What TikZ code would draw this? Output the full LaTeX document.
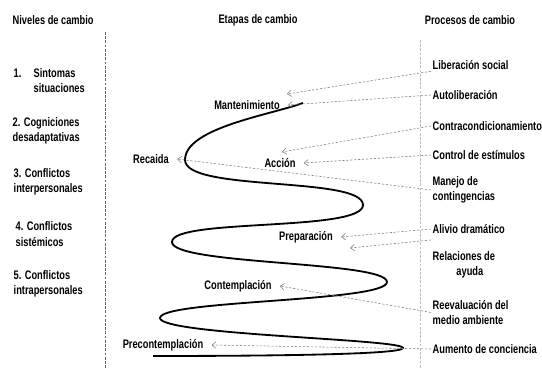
\documentclass[tikz,border=0pt]{standalone}
\usepackage{fontspec}
\newfontfamily\narrowsans[FakeStretch=0.75]{Liberation Sans}
\usetikzlibrary{arrows.meta}

\begin{document}
\begin{tikzpicture}[x=0.25mm,y=0.25mm,
  every node/.style={font=\narrowsans\bfseries\fontsize{8.8}{10.8}\selectfont,inner sep=1pt},
  nivel/.style={anchor=west,align=left},
  proceso/.style={anchor=west,align=left},
  etapa/.style={inner xsep=2mm},
  flecha/.style={-{Straight Barb[length=1mm,width=1.6mm]},gray,line width=0.4pt,dash pattern=on 1.6pt off 1.2pt},
  espiral/.style={line width=1.3pt}]
\useasboundingbox (0,0) rectangle (542,368);

% column titles
\node[anchor=west,name=tniveles] at (11,348) {Niveles de cambio};
\node[name=tetapas] at (258,348) {Etapas de cambio};
\node[name=tprocesos] at (470,348) {Procesos de cambio};

% separators
\draw[gray!80!black,dash pattern=on 2pt off 1pt] (105,336) -- (105,0);
\draw[gray!50,dash pattern=on 2pt off 1pt] (420,328) -- (420,0);

% levels
\node[nivel,name=niv1] at (12,287.5) {\makebox[5mm][l]{1.}Sintomas\\\hspace*{5mm}situaciones};
\node[nivel,name=niv2] at (11,237.5) {2. Cogniciones\\desadaptativas};
\node[nivel,name=niv3] at (12,186) {3. Conflictos\\interpersonales};
\node[nivel,name=niv4] at (14,134) {4. Conflictos\\sistémicos};
\node[nivel,name=niv5] at (12,84) {5. Conflictos\\intrapersonales};

% the spiral
\draw[espiral] (303,265) .. controls (270,253) and (185,240) .. (185,208)
  .. controls (185,176) and (363,192) .. (363,163)
  .. controls (363,136) and (172,150) .. (172,126)
  .. controls (172,103) and (387,107) .. (387,86)
  .. controls (387,66) and (160,68) .. (160,50)
  .. controls (160,33) and (403,29) .. (403,20)
  .. controls (403,13) and (250,12) .. (153,12);

% stages
\node[etapa,name=mant] at (247,263) {Mantenimiento};
\node[etapa,name=recaida] at (151,209) {Recaida};
\node[etapa,name=accion] at (280,205) {Acción};
\node[etapa,name=prep] at (306,131) {Preparación};
\node[etapa,name=cont] at (238,82) {Contemplación};
\node[etapa,name=precont] at (163,23) {Precontemplación};

% processes
\node[proceso,name=lib] at (431,303) {Liberación social};
\node[proceso,name=auto] at (431,273) {Autoliberación};
\node[proceso,name=contra] at (431,242) {Contracondicionamiento};
\node[proceso,name=control] at (431,213) {Control de estímulos};
\node[proceso,name=manejo] at (431,178) {Manejo de\\contingencias};
\node[proceso,name=alivio] at (431,139) {Alivio dramático};
\node[proceso,align=center,name=relac] at (431,103) {Relaciones de\\\hspace*{3mm}ayuda};
\node[proceso,name=reeval] at (431,55.5) {Reevaluación del\\medio ambiente};
\node[proceso,name=aumento] at (431,19) {Aumento de conciencia};

% free arrow ends
\coordinate (finlib) at (287,274);
\coordinate (fincontra) at (282,216);
\coordinate (finrelac) at (350,120);

% arrows from processes to stages
\draw[flecha] (lib.south west) -- (finlib);
\draw[flecha] (auto.west) -- (mant.east);
\draw[flecha] (contra.west) -- (fincontra);
\draw[flecha] (control.west) -- (accion.east);
\draw[flecha] (manejo.west) -- (recaida.east);
\draw[flecha] (alivio.west) -- (prep.east);
\draw[flecha] ([yshift=2.5mm]relac.north west) -- (finrelac);
\draw[flecha] (reeval.west) -- (cont.east);
\draw[flecha] (aumento.west) -- (precont.east);
\end{tikzpicture}
\end{document}
